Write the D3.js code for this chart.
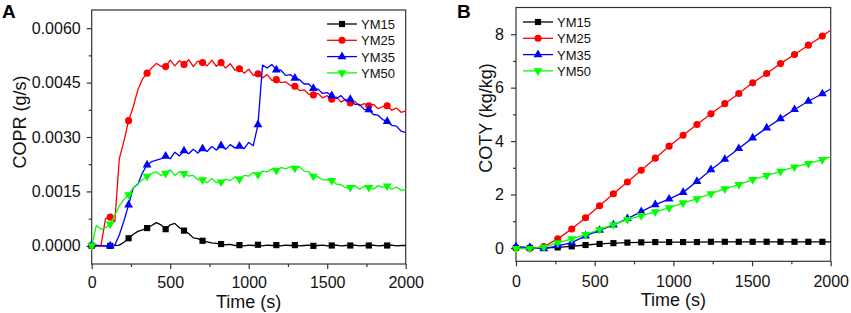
<!DOCTYPE html>
<html>
<head>
<meta charset="utf-8">
<script src="https://cdn.jsdelivr.net/npm/d3@7"></script>
<style>
  body { margin: 0; background: #fff; }
  svg { display: block; font-family: Arial, "Liberation Sans", sans-serif; }
</style>
</head>
<body>
<div id="chart"></div>
<script>
// ---- data ----
const seriesNames = ["YM15", "YM25", "YM35", "YM50"];
const seriesColors = ["#000000", "#ff0000", "#0000ff", "#00ff00"];
const xTicks = [0, 500, 1000, 1500, 2000];
const xMinorTicks = [250, 750, 1250, 1750];

// panel A: carbon oxide production rate (g/s)
const coprTimes = [0, 29, 59, 88, 118, 147, 176, 206, 235, 265,
  294, 324, 353, 382, 412, 441, 471, 500, 529, 559,
  588, 618, 647, 676, 706, 735, 765, 794, 824, 853,
  882, 912, 941, 971, 1000, 1029, 1059, 1088, 1118, 1147,
  1176, 1206, 1235, 1265, 1294, 1324, 1353, 1382, 1412, 1441,
  1471, 1500, 1529, 1559, 1588, 1618, 1647, 1676, 1706, 1735,
  1765, 1794, 1824, 1853, 1882, 1912, 1941, 1971, 2000];
const coprYM15 = [0, 0, 0, 0, 0, 0.00001, 0.00002, 0.0001, 0.00021, 0.00032,
  0.0004, 0.00044, 0.00049, 0.00056, 0.00064, 0.00058, 0.00046, 0.00058, 0.00062, 0.0005,
  0.00042, 0.00034, 0.00022, 0.0002, 0.00014, 0.00011, 0.00008, 0.00007, 0.00005, 0.00003,
  0.00004, 0.00001, 0.00002, 0, 0.00002, 0.00001, 0.00003, 0, 0.00002, 0.00001,
  0.00002, 0, 0.00002, 0.00001, 0.00002, 0, 0.00001, 0.00002, 0, 0.00001,
  0.00002, 0, 0.00001, 0.00002, 0, 0.00001, 0.00001, 0.00002, 0, 0.00001,
  0.00001, 0.00002, 0, 0.00001, 0.00001, 0.00002, 0, 0.00001, 0.00001];
const coprYM25 = [0, 0, 0, 0.00075, 0.00079, 0.00066, 0.0024, 0.0029, 0.00345, 0.00384,
  0.0043, 0.0046, 0.00476, 0.0049, 0.00503, 0.00495, 0.00494, 0.00512, 0.00496, 0.0051,
  0.005, 0.00513, 0.00494, 0.00509, 0.00505, 0.00496, 0.00512, 0.00495, 0.00505, 0.0049,
  0.00502, 0.00484, 0.00488, 0.00476, 0.00487, 0.0047, 0.00474, 0.00463, 0.00472, 0.00456,
  0.00458, 0.0045, 0.00452, 0.00442, 0.0044, 0.00428, 0.0043, 0.00418, 0.00416, 0.0042,
  0.00408, 0.00414, 0.00404, 0.0041, 0.00396, 0.00404, 0.00394, 0.00398, 0.00386, 0.00392,
  0.00386, 0.0039, 0.00378, 0.00384, 0.00386, 0.00374, 0.0038, 0.00368, 0.00372];
const coprYM35 = [0.00003, 0.00002, 0, 0, 0, 0.00002, 0.0003, 0.0007, 0.00113, 0.0016,
  0.0017, 0.00202, 0.00223, 0.00232, 0.00236, 0.0024, 0.00247, 0.0024, 0.00258, 0.00248,
  0.00262, 0.00254, 0.00266, 0.00256, 0.00268, 0.0026, 0.00274, 0.00264, 0.00276, 0.00266,
  0.00279, 0.0027, 0.00275, 0.00268, 0.00285, 0.00276, 0.00334, 0.00498, 0.0049, 0.005,
  0.00485, 0.00484, 0.0047, 0.00472, 0.00462, 0.00458, 0.00446, 0.00446, 0.00434, 0.00432,
  0.0042, 0.00422, 0.00414, 0.00406, 0.00414, 0.004, 0.00404, 0.0039, 0.0039, 0.00376,
  0.00375, 0.00362, 0.0036, 0.00348, 0.00343, 0.00332, 0.0033, 0.00316, 0.00312];
const coprYM50 = [0, 0.00056, 0.00046, 0.0005, 0.0006, 0.00085, 0.0011, 0.00128, 0.00141, 0.0016,
  0.00172, 0.00182, 0.00192, 0.002, 0.00204, 0.00194, 0.002, 0.0021, 0.00194, 0.00204,
  0.00199, 0.00192, 0.00194, 0.00182, 0.00182, 0.00174, 0.00186, 0.00174, 0.00176, 0.00184,
  0.0018, 0.0019, 0.00184, 0.00194, 0.00192, 0.00202, 0.00196, 0.00206, 0.00204, 0.00212,
  0.00208, 0.00216, 0.00212, 0.00218, 0.00214, 0.00218, 0.00206, 0.00204, 0.00192, 0.0019,
  0.00182, 0.00182, 0.0018, 0.0017, 0.00168, 0.0016, 0.00161, 0.00166, 0.00156, 0.00164,
  0.00161, 0.00156, 0.00166, 0.00162, 0.00165, 0.00156, 0.00162, 0.00154, 0.00154];
const coprTicks = [0, 0.0015, 0.003, 0.0045, 0.006];
const coprMinorTicks = [0.00075, 0.00225, 0.00375, 0.00525];

// panel B: carbon oxide total yield (kg/kg)
const cotyTimes = [0, 88, 177, 265, 354, 442, 531, 619, 708, 796, 885, 973,
  1062, 1150, 1239, 1327, 1416, 1504, 1593, 1681, 1770, 1858, 1947, 2000];
const cotyYM15 = [0, 0, 0, 0.02, 0.06, 0.11, 0.15, 0.18, 0.2, 0.21, 0.22, 0.22,
  0.22, 0.22, 0.23, 0.23, 0.23, 0.23, 0.23, 0.23, 0.23, 0.23, 0.23, 0.23];
const cotyYM25 = [0, -0.02, 0.05, 0.34, 0.71, 1.13, 1.58, 2.03, 2.47, 2.91, 3.36, 3.81,
  4.22, 4.62, 5.02, 5.4, 5.78, 6.18, 6.53, 6.9, 7.24, 7.59, 7.93, 8.15];
const cotyYM35 = [0.05, 0.02, -0.03, 0.08, 0.2, 0.45, 0.66, 0.86, 1.1, 1.36, 1.62, 1.83,
  2.08, 2.49, 2.93, 3.32, 3.72, 4.12, 4.49, 4.84, 5.18, 5.49, 5.77, 5.95];
const cotyYM50 = [-0.02, -0.02, 0.03, 0.19, 0.34, 0.5, 0.69, 0.87, 1.06, 1.21, 1.35, 1.5,
  1.69, 1.84, 2.03, 2.21, 2.37, 2.56, 2.71, 2.87, 3.03, 3.16, 3.31, 3.41];
const cotyTicks = [0, 2, 4, 6, 8];
const cotyMinorTicks = [1, 3, 5, 7];

// ---- drawing ----
const svg = d3.select("#chart").append("svg")
  .attr("width", 851)
  .attr("height", 313);

const symbols = [d3.symbolSquare, d3.symbolCircle, d3.symbolTriangle, d3.symbolTriangle];
const symbolSizes = [38, 40, 34, 34];
const symbolRotate = [0, 0, 0, 180];
const frameColor = "#333";

function drawPanel(p) {
  const x = d3.scaleLinear().domain([0, 2000]).range([p.left, p.right]);
  const y = d3.scaleLinear().domain(p.yDomain).range([p.bottom, p.top]);
  const g = svg.append("g");

  // minor ticks
  g.append("g")
    .attr("transform", `translate(0,${p.bottom})`)
    .call(d3.axisBottom(x).tickValues(xMinorTicks).tickSize(3).tickFormat(""))
    .call(a => a.select(".domain").remove());
  g.append("g")
    .attr("transform", `translate(${p.left},0)`)
    .call(d3.axisLeft(y).tickValues(p.yMinor).tickSize(3).tickFormat(""))
    .call(a => a.select(".domain").remove());

  // major ticks with labels
  const xAxis = g.append("g")
    .attr("transform", `translate(0,${p.bottom})`)
    .call(d3.axisBottom(x).tickValues(xTicks).tickSize(5).tickPadding(p.xPad).tickFormat(d3.format("d")));
  const yAxis = g.append("g")
    .attr("transform", `translate(${p.left},0)`)
    .call(d3.axisLeft(y).tickValues(p.yTicks).tickSize(5).tickPadding(p.yPad).tickFormat(p.yFormat));
  [xAxis, yAxis].forEach(a => {
    a.select(".domain").remove();
    a.selectAll("text").style("font-size", "16px").attr("fill", "#111");
  });
  g.selectAll(".tick line").attr("stroke", frameColor).attr("stroke-width", 1.2);

  // frame
  g.append("rect")
    .attr("x", p.left).attr("y", p.top)
    .attr("width", p.right - p.left).attr("height", p.bottom - p.top)
    .attr("fill", "none").attr("stroke", frameColor).attr("stroke-width", 1.2);

  // series
  const line = d3.line().x(d => x(d.t)).y(d => y(d.v));
  p.series.forEach((vals, si) => {
    const pts = p.times.map((t, i) => ({ t: t, v: vals[i], i: i }));
    g.append("path")
      .datum(pts)
      .attr("fill", "none")
      .attr("stroke", seriesColors[si])
      .attr("stroke-width", 1.3)
      .attr("stroke-linejoin", "round")
      .attr("d", line);
    g.selectAll(null)
      .data(pts.filter(p.isMarker))
      .enter()
      .append("path")
      .attr("d", d3.symbol().type(symbols[si]).size(symbolSizes[si]))
      .attr("transform", d => `translate(${x(d.t)},${y(d.v)}) rotate(${symbolRotate[si]})`)
      .attr("fill", seriesColors[si]);
  });

  // legend
  const leg = g.append("g");
  seriesNames.forEach((name, i) => {
    const ly = p.legY + i * 16.3;
    leg.append("line")
      .attr("x1", p.legX).attr("x2", p.legX + 30)
      .attr("y1", ly).attr("y2", ly)
      .attr("stroke", seriesColors[i]).attr("stroke-width", 1.3);
    leg.append("path")
      .attr("d", d3.symbol().type(symbols[i]).size(symbolSizes[i]))
      .attr("transform", `translate(${p.legX + 15},${ly}) rotate(${symbolRotate[i]})`)
      .attr("fill", seriesColors[i]);
    leg.append("text")
      .attr("x", p.legX + 34).attr("y", ly + 5)
      .style("font-size", "13px")
      .attr("fill", "#111")
      .text(name);
  });

  // titles
  g.append("text")
    .attr("x", (p.left + p.right) / 2).attr("y", p.titleY)
    .attr("text-anchor", "middle")
    .style("font-size", "18px")
    .attr("fill", "#111")
    .text("Time (s)");
  g.append("text")
    .attr("transform", `translate(${p.yLabelX},${p.yLabelY}) rotate(-90)`)
    .attr("text-anchor", "middle")
    .style("font-size", "18px")
    .attr("fill", "#111")
    .text(p.yLabel);
  g.append("text")
    .attr("x", p.tagX).attr("y", 18)
    .style("font-size", "19px")
    .style("font-weight", "bold")
    .text(p.tag);
}

drawPanel({
  tag: "A", tagX: 2,
  left: 91.7, right: 405.7, top: 10, bottom: 264,
  xPad: 8, titleY: 308,
  yDomain: [-0.0005, 0.0065],
  yTicks: coprTicks, yMinor: coprMinorTicks, yPad: 6,
  yFormat: d3.format(".4f"),
  yLabel: "COPR (g/s)", yLabelX: 26, yLabelY: 122,
  times: coprTimes,
  series: [coprYM15, coprYM25, coprYM35, coprYM50],
  isMarker: d => d.i % 4 === 0 && d.i <= 64,
  legX: 327, legY: 24
});

drawPanel({
  tag: "B", tagX: 457,
  left: 516, right: 830.7, top: 7.5, bottom: 261.3,
  xPad: 9, titleY: 306,
  yDomain: [-0.5, 9],
  yTicks: cotyTicks, yMinor: cotyMinorTicks, yPad: 7,
  yFormat: d3.format("d"),
  yLabel: "COTY (kg/kg)", yLabelX: 492, yLabelY: 118,
  times: cotyTimes,
  series: [cotyYM15, cotyYM25, cotyYM35, cotyYM50],
  isMarker: d => d.i < cotyTimes.length - 1,
  legX: 523, legY: 22
});
</script>
</body>
</html>
